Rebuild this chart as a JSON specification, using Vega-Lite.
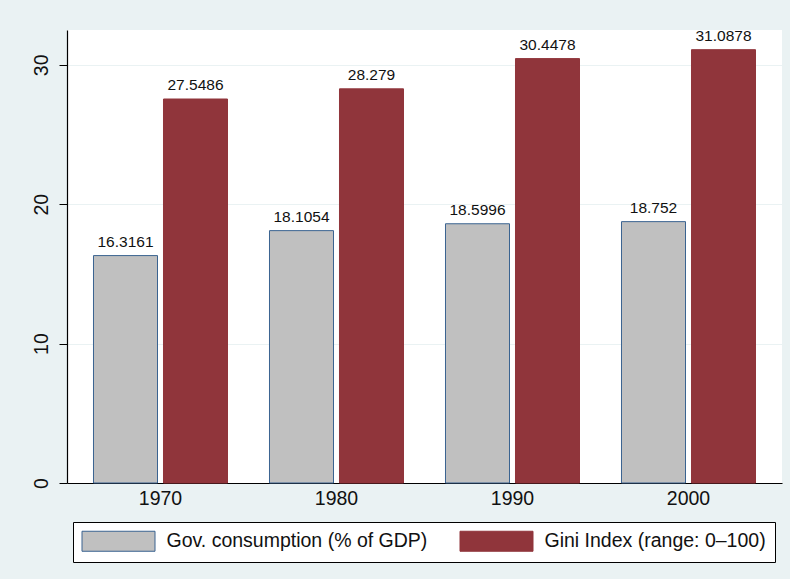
{
  "$schema": "https://vega.github.io/schema/vega-lite/v6.json",
  "width": 715,
  "height": 453,
  "autosize": {"type": "none"},
  "padding": {"left": 67, "top": 30, "right": 8, "bottom": 96},
  "background": "#EAF2F3",
  "config": {
    "font": "Liberation Sans",
    "view": {"stroke": null, "fill": "white"}
  },
  "data": {
    "values": [
      {"year": "1970", "series": "Gov. consumption (% of GDP)", "value": 16.3161, "label": "16.3161"},
      {"year": "1970", "series": "Gini Index (range: 0–100)", "value": 27.5486, "label": "27.5486"},
      {"year": "1980", "series": "Gov. consumption (% of GDP)", "value": 18.1054, "label": "18.1054"},
      {"year": "1980", "series": "Gini Index (range: 0–100)", "value": 28.279, "label": "28.279"},
      {"year": "1990", "series": "Gov. consumption (% of GDP)", "value": 18.5996, "label": "18.5996"},
      {"year": "1990", "series": "Gini Index (range: 0–100)", "value": 30.4478, "label": "30.4478"},
      {"year": "2000", "series": "Gov. consumption (% of GDP)", "value": 18.752, "label": "18.752"},
      {"year": "2000", "series": "Gini Index (range: 0–100)", "value": 31.0878, "label": "31.0878"}
    ]
  },
  "encoding": {
    "x": {
      "field": "year", "type": "nominal",
      "scale": {"paddingInner": 0, "paddingOuter": 0.03125},
      "axis": {
        "title": null, "labelAngle": 0, "ticks": false, "labelPadding": 6,
        "labelFontSize": 19.5, "labelColor": "#111", "domainColor": "black", "domainWidth": 1.2
      }
    },
    "xOffset": {
      "field": "series", "type": "nominal",
      "sort": ["Gov. consumption (% of GDP)", "Gini Index (range: 0–100)"],
      "scale": {"paddingInner": 0.0857, "paddingOuter": 0.3}
    },
    "y": {
      "field": "value", "type": "quantitative",
      "scale": {"domain": [0, 32.5], "nice": false, "zero": true},
      "axis": {
        "title": null, "values": [0, 10, 20, 30], "labelAngle": -90,
        "labelFontSize": 19.5, "labelColor": "#111", "labelPadding": 8,
        "tickSize": 8, "tickColor": "black", "domainColor": "black", "domainWidth": 1.2,
        "gridColor": "#EAF2F3", "gridWidth": 1.2
      }
    }
  },
  "layer": [
    {
      "mark": {"type": "bar", "strokeWidth": 1},
      "encoding": {
        "color": {
          "field": "series", "type": "nominal",
          "sort": ["Gov. consumption (% of GDP)", "Gini Index (range: 0–100)"],
          "scale": {"domain": ["Gov. consumption (% of GDP)", "Gini Index (range: 0–100)"], "range": ["#C0C0C0", "#90353B"]},
          "legend": {
            "title": null, "orient": "none", "legendX": 6, "legendY": 492,
            "direction": "horizontal", "columns": 2, "columnPadding": 30,
            "padding": 8.5, "strokeColor": "black", "fillColor": "white",
            "symbolType": "M-1,-1L6.3,-1L6.3,1L-1,1Z", "symbolSize": 400,
            "symbolStrokeWidth": 1, "symbolOpacity": 1,
            "labelFontSize": 19.5, "labelOffset": 64, "labelLimit": 400, "labelColor": "#111"
          }
        },
        "stroke": {
          "field": "series", "type": "nominal",
          "sort": ["Gov. consumption (% of GDP)", "Gini Index (range: 0–100)"],
          "scale": {"domain": ["Gov. consumption (% of GDP)", "Gini Index (range: 0–100)"], "range": ["#3a6390", "#90353B"]},
          "legend": null
        }
      }
    },
    {
      "mark": {"type": "text", "baseline": "alphabetic", "dy": -9, "fontSize": 15.5, "color": "#111"},
      "encoding": {
        "text": {"field": "label", "type": "nominal"}
      }
    }
  ]
}
